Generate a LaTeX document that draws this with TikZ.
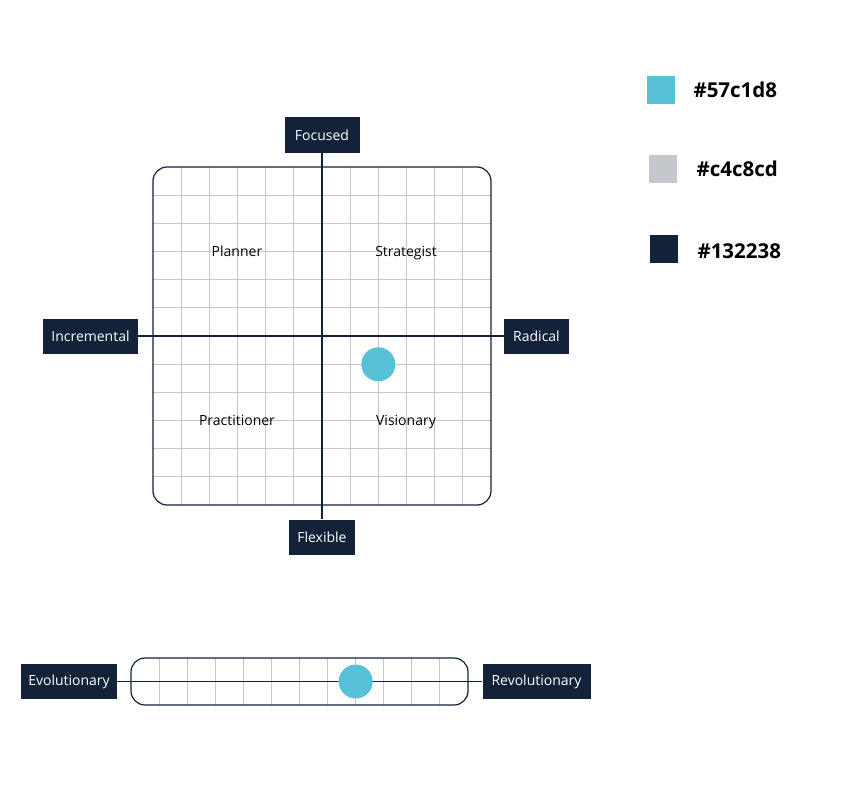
\documentclass[tikz,border=0pt]{standalone}
\usepackage{fontspec}
\setmainfont{Open Sans}
\definecolor{cyanc}{HTML}{57C1D8}
\definecolor{grayc}{HTML}{C4C8CD}
\definecolor{navyc}{HTML}{132238}
\begin{document}
\begin{tikzpicture}[x=1pt,y=-1pt,
  lbl/.style={fill=navyc,text=white,inner sep=0pt,minimum height=35pt,font=\fontsize{14}{16}\selectfont},
  quad/.style={text=black,inner sep=0pt,text height=10.5pt,text depth=3.5pt,font=\fontsize{14}{16}\selectfont},
  gridline/.style={draw=grayc,line width=0.9pt},
  axis/.style={draw=navyc,line width=1.9pt},
  frame/.style={draw=navyc,line width=1.2pt,rounded corners=14pt},
  dot/.style={circle,fill=cyanc,inner sep=0pt,minimum size=34pt},
  swatch/.style={inner sep=0pt,minimum size=28pt},
  legtext/.style={anchor=west,font=\fontsize{20.5}{22}\selectfont\bfseries,text=black}]
\useasboundingbox (0,0) rectangle (863,792);
% main grid
\begin{scope}
\clip[rounded corners=14pt] (153,167) rectangle (491,505);
\foreach \i in {1,...,11}{
  \draw[gridline] ({153+\i*338/12},167) -- ({153+\i*338/12},505);
  \draw[gridline] (153,{167+\i*338/12}) -- (491,{167+\i*338/12});
}
\end{scope}
\draw[frame] (153,167) rectangle (491,505);
% labels
\node[lbl,minimum width=75pt] (focused) at (322,135) {Focused};
\node[lbl,minimum width=66pt] (flexible) at (322,537) {Flexible};
\node[lbl,minimum width=95pt] (incremental) at (90.5,336) {Incremental};
\node[lbl,minimum width=65pt] (radical) at (536.5,336) {Radical};
\draw[axis] (focused.south) -- (flexible.north);
\draw[axis] (incremental.east) -- (radical.west);
\node[quad] (planner) at (237,253) {Planner};
\node[quad] (strategist) at (406,253) {Strategist};
\node[quad] (practitioner) at (237,422) {Practitioner};
\node[quad] (visionary) at (406,422) {Visionary};
\node[dot] (pos) at (378.3,364.3) {};
% bottom bar
\begin{scope}
\clip[rounded corners=14pt] (131,658) rectangle (468,705);
\foreach \i in {1,...,11}{
  \draw[gridline] ({131+\i*337/12},658) -- ({131+\i*337/12},705);
}
\end{scope}
\draw[frame] (131,658) rectangle (468,705);
\node[lbl,minimum width=96pt] (evol) at (69,681.5) {Evolutionary};
\node[lbl,minimum width=108pt] (revol) at (536.5,681.5) {Revolutionary};
\draw[axis] (evol.east) -- (revol.west);
\node[dot] (pos2) at (355.7,681.5) {};
% legend
\node[swatch,fill=cyanc] (s1) at (661,90) {};
\node[legtext] (t1) at (690,90) {\#57c1d8};
\node[swatch,fill=grayc] (s2) at (663,169) {};
\node[legtext] (t2) at (693,169) {\#c4c8cd};
\node[swatch,fill=navyc] (s3) at (664,249) {};
\node[legtext] (t3) at (694,251) {\#132238};
\end{tikzpicture}
\end{document}
